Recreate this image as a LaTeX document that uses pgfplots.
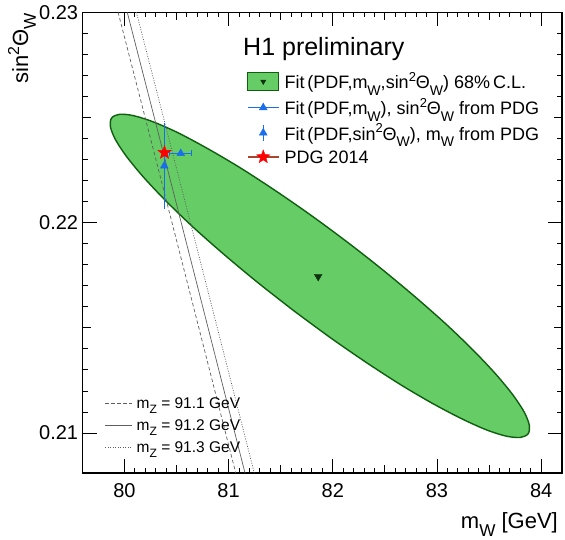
\documentclass[border=0pt]{standalone}
\usepackage{pgfplots}
\pgfplotsset{compat=1.18}
\usepackage{graphicx}
\usepackage{fontspec}
\setmainfont{Liberation Sans}
\usetikzlibrary{plotmarks}

\definecolor{ellgreen}{RGB}{102,204,102}
\definecolor{ellborder}{RGB}{15,95,15}
\definecolor{ctr}{RGB}{15,50,15}
\definecolor{blueC}{RGB}{25,110,235}
\definecolor{pdgline}{RGB}{170,70,45}
\definecolor{mzgray}{RGB}{95,95,95}

\pgfdeclareplotmark{fstar}{%
 \pgfpathmoveto{\pgfpointpolar{90}{\pgfplotmarksize}}%
 \pgfpathlineto{\pgfpointpolar{126}{0.42\pgfplotmarksize}}%
 \pgfpathlineto{\pgfpointpolar{162}{\pgfplotmarksize}}%
 \pgfpathlineto{\pgfpointpolar{198}{0.42\pgfplotmarksize}}%
 \pgfpathlineto{\pgfpointpolar{234}{\pgfplotmarksize}}%
 \pgfpathlineto{\pgfpointpolar{270}{0.42\pgfplotmarksize}}%
 \pgfpathlineto{\pgfpointpolar{306}{\pgfplotmarksize}}%
 \pgfpathlineto{\pgfpointpolar{342}{0.42\pgfplotmarksize}}%
 \pgfpathlineto{\pgfpointpolar{18}{\pgfplotmarksize}}%
 \pgfpathlineto{\pgfpointpolar{54}{0.42\pgfplotmarksize}}%
 \pgfpathclose
 \pgfusepathqfillstroke}

\newcommand\fT{\fontsize{20}{24}\selectfont}
\newcommand\fL{\fontsize{18}{21}\selectfont}
\newcommand\fH{\fontsize{25}{30}\selectfont}
\newcommand\fA{\fontsize{22}{26}\selectfont}
\newcommand\fZ{\fontsize{15.5}{18}\selectfont}
\newcommand\ls{\rule[-6pt]{0pt}{20pt}}
\newcommand\lz{\rule[-4pt]{0pt}{15pt}}
\newcommand\sbt[1]{\raisebox{-0.36em}{\scalebox{0.78}{#1}}}
\newcommand\spt[1]{\raisebox{0.40em}{\scalebox{0.72}{#1}}}

\begin{document}
\begin{tikzpicture}
\begin{axis}[
  width=479.3pt, height=460.7pt, scale only axis,
  at={(0pt,0pt)}, anchor=south west,
  xmin=79.6, xmax=84.2, ymin=0.2081, ymax=0.23,
  xtick={80,81,82,83,84}, xticklabels={80,81,82,83,84},
  ytick={0.21,0.22,0.23}, yticklabels={0.21,0.22,0.23},
  minor x tick num=9, minor y tick num=9,
  extra x ticks={80.5,81.5,82.5,83.5}, extra x tick labels={},
  extra x tick style={major tick length=8pt},
  extra y ticks={0.215,0.225}, extra y tick labels={},
  extra y tick style={major tick length=8pt},
  tick align=inside, xtick pos=both, ytick pos=both,
  major tick length=14pt, minor tick length=5pt,
  every tick/.style={black, line width=0.9pt},
  axis line style={line width=1.1pt},
  tick label style={font=\fT},
  /pgf/number format/assume math mode=true,
  xticklabel style={inner sep=0pt, yshift=-10pt},
  yticklabel style={inner sep=0pt, xshift=-4.4pt},
  scaled ticks=false,
  xlabel={m\sbt{W} [GeV]},
  xlabel style={font=\fA, at={(axis description cs:0.9917,-0.1200)}, anchor=base east, inner sep=0pt},
  ylabel={sin\spt{2}Θ\sbt{W}},
  ylabel style={font=\fA, at={(axis description cs:-0.1141,0.998)}, anchor=base east, inner sep=0pt},
  legend style={at={(axis description cs:0.0465,0.1643)}, anchor=north west,
    draw=none, fill=none, inner sep=0pt, outer sep=0pt, font=\fZ,
    row sep=9.5pt, column sep=4pt, nodes={inner sep=0pt}},
  legend cell align=left,
  legend image code/.code={\draw[#1] (0pt,0pt) -- (27pt,0pt);},
]
% 68% C.L. ellipse
\addplot[fill=ellgreen, draw=ellborder, line width=1.4pt, smooth, forget plot] coordinates {
(81.624,0.21582) (81.281,0.21715) (80.956,0.21849) (80.659,0.21979)
(80.399,0.22103) (80.184,0.22216) (80.020,0.22315) (79.913,0.22396)
(79.865,0.22458) (79.878,0.22498) (79.952,0.22515) (80.085,0.22509)
(80.272,0.22480) (80.508,0.22429) (80.785,0.22356) (81.095,0.22266)
(81.429,0.22159) (81.777,0.22040) (82.128,0.21912) (82.471,0.21779)
(82.796,0.21645) (83.093,0.21515) (83.353,0.21391) (83.568,0.21278)
(83.732,0.21179) (83.839,0.21098) (83.887,0.21036) (83.874,0.20996)
(83.800,0.20979) (83.667,0.20985) (83.480,0.21014) (83.245,0.21066)
(82.967,0.21138) (82.657,0.21228) (82.323,0.21335) (81.975,0.21454)
(81.624,0.21582)};
% m_Z lines
\addplot[mzgray, line width=0.7pt, dash pattern=on 3.5pt off 2.5pt] coordinates {
(79.9399,0.23) (80.1991,0.225) (80.4573,0.22) (80.7148,0.215) (80.9714,0.21) (81.0739,0.208)};
\addlegendentry{\lz m\sbt{Z} = 91.1 GeV}
\addplot[mzgray, line width=0.7pt] coordinates {
(80.0276,0.23) (80.2871,0.225) (80.5457,0.22) (80.8034,0.215) (81.0603,0.21) (81.1629,0.208)};
\addlegendentry{\lz m\sbt{Z} = 91.2 GeV}
\addplot[mzgray, line width=0.7pt, dash pattern=on 1pt off 1.5pt] coordinates {
(80.1154,0.23) (80.3751,0.225) (80.6340,0.22) (80.8920,0.215) (81.1492,0.21) (81.2519,0.208)};
\addlegendentry{\lz m\sbt{Z} = 91.3 GeV}
\end{axis}

\begin{axis}[
  width=479.3pt, height=460.7pt, scale only axis,
  at={(0pt,0pt)}, anchor=south west,
  xmin=79.6, xmax=84.2, ymin=0.2081, ymax=0.23,
  hide axis,
  legend style={at={(axis description cs:0.3428,0.8704)}, anchor=north west,
    draw=none, fill=none, inner sep=0pt, outer sep=0pt, font=\fL,
    row sep=7.5pt, column sep=5pt, nodes={inner sep=0pt}},
  legend cell align=left,
]
\node[anchor=base west, font=\fH, inner sep=0pt] at (axis description cs:0.3345,0.9052) {H1 preliminary};
% centre of the fit
\addplot[only marks, mark=triangle*, mark size=4.5pt, mark options={rotate=180, fill=ctr, draw=ctr}, forget plot]
  coordinates {(81.860,0.21744)};
% fit (PDF, mW), sin2 from PDG
\addplot[blueC, mark=triangle*, mark size=4.5pt, mark options={fill=blueC, line width=0.4pt}, forget plot,
  error bars/.cd, x dir=both, x explicit,
  error bar style={line width=1.5pt, blueC}, error mark options={blueC, mark size=3pt, line width=1.2pt, rotate=90}]
  coordinates {(80.541,0.22329) +- (0.105,0)};
% fit (PDF, sin2), mW from PDG
\addplot[blueC, mark=triangle*, mark size=4.5pt, mark options={fill=blueC, line width=0.4pt}, forget plot,
  error bars/.cd, y dir=both, y explicit,
  error bar style={line width=1.5pt, blueC}, error mark options={blueC, mark size=3pt, line width=1.2pt}]
  coordinates {(80.383,0.2227) +- (0,0.0019)};
% PDG 2014
\addplot[only marks, mark=fstar, mark size=7pt, mark options={fill=red, draw=red, line width=0.4pt}, forget plot]
  coordinates {(80.385,0.22333)};

\addlegendimage{legend image code/.code={
  \draw[fill=ellgreen, draw=ellborder, line width=1.2pt] (0pt,-9pt) rectangle (31pt,9pt);
  \draw plot[mark=triangle*, mark size=3pt, mark options={rotate=180, fill=ctr, draw=ctr}] coordinates {(15.5pt,0pt)};}}
\addlegendentry{\ls Fit\,(PDF,m\sbt{W},sin\spt{2}Θ\sbt{W}) 68\%\,C.L.}
\addlegendimage{legend image code/.code={
  \draw[blueC, line width=1.5pt] (0pt,0pt) -- (31pt,0pt);
  \draw[blueC] plot[mark=triangle*, mark size=4.5pt, mark options={fill=blueC}] coordinates {(15.5pt,0pt)};}}
\addlegendentry{\ls Fit\,(PDF,m\sbt{W}), sin\spt{2}Θ\sbt{W} from PDG}
\addlegendimage{legend image code/.code={
  \draw[blueC, line width=1.5pt] (15.5pt,-8pt) -- (15.5pt,8pt);
  \draw[blueC] plot[mark=triangle*, mark size=4.5pt, mark options={fill=blueC}] coordinates {(15.5pt,0pt)};}}
\addlegendentry{\ls Fit\,(PDF,sin\spt{2}Θ\sbt{W}), m\sbt{W} from PDG}
\addlegendimage{legend image code/.code={
  \draw[pdgline, line width=1.3pt] (0pt,0pt) -- (31pt,0pt);
  \draw[red] plot[mark=fstar, mark size=7pt, mark options={fill=red, draw=red}] coordinates {(15.5pt,0pt)};}}
\addlegendentry{\ls PDG 2014}
\end{axis}
\pgfresetboundingbox
\path[use as bounding box] (-82.7pt,-67pt) rectangle (482.3pt,473pt);
\end{tikzpicture}
\end{document}
